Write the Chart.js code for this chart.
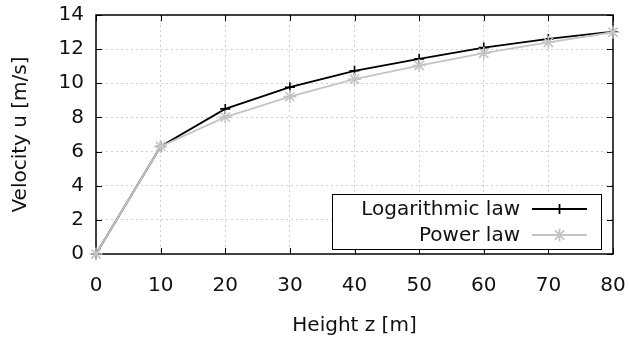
<!DOCTYPE html>
<html><head><meta charset="utf-8">
<script src="https://cdn.jsdelivr.net/npm/chart.js@4"></script>
<style>html,body{margin:0;padding:0;background:#fff}</style>
</head><body>
<canvas id="c" width="629" height="341"></canvas>
<script>
const heights = [0, 10, 20, 30, 40, 50, 60, 70, 80];
const logLaw = [0, 6.3, 8.5, 9.77, 10.73, 11.43, 12.09, 12.6, 13.02];
const powerLaw = [0, 6.3, 8.02, 9.22, 10.24, 11.04, 11.76, 12.4, 12.99];
const seriesNames = ['Logarithmic law', 'Power law'];
const xTitle = 'Height z [m]';
const yTitle = 'Velocity u [m/s]';

const FONT = 'DejaVu Sans';
const TXT = '#111';
const GRAY = '#c4c4c4';

const framePlugin = {
  id: 'frame',
  beforeDatasetsDraw(chart) {
    const {ctx, chartArea: a, scales: {x, y}} = chart;
    ctx.save();
    ctx.strokeStyle = '#000';
    ctx.lineWidth = 1;
    const L = 6;
    ctx.beginPath();
    x.ticks.forEach(t => {
      const px = Math.round(x.getPixelForValue(t.value)) + 0.5;
      ctx.moveTo(px, a.bottom); ctx.lineTo(px, a.bottom - L);
      ctx.moveTo(px, a.top); ctx.lineTo(px, a.top + L);
    });
    y.ticks.forEach(t => {
      const py = Math.round(y.getPixelForValue(t.value)) + 0.5;
      ctx.moveTo(a.left, py); ctx.lineTo(a.left + L, py);
      ctx.moveTo(a.right, py); ctx.lineTo(a.right - L, py);
    });
    ctx.stroke();
    ctx.lineWidth = 1.5;
    ctx.strokeRect(a.left, a.top, a.right - a.left, a.bottom - a.top);
    ctx.restore();
  }
};

const legendPlugin = {
  id: 'gpLegend',
  afterDraw(chart) {
    const {ctx} = chart;
    const bx = 332, by = 194, bw = 269, bh = 55;
    ctx.save();
    ctx.fillStyle = '#fff';
    ctx.fillRect(bx, by, bw, bh);
    ctx.strokeStyle = '#000';
    ctx.lineWidth = 1;
    ctx.strokeRect(bx + 0.5, by + 0.5, bw, bh);
    const rows = [209, 235];
    ctx.font = '20px "' + FONT + '"';
    ctx.textAlign = 'right';
    ctx.textBaseline = 'middle';
    chart.data.datasets.forEach((ds, i) => {
      const yy = rows[i];
      ctx.fillStyle = TXT;
      ctx.fillText(ds.label, 520, yy + 1);
      ctx.strokeStyle = ds.borderColor;
      ctx.lineWidth = ds.borderWidth;
      ctx.beginPath(); ctx.moveTo(532, yy); ctx.lineTo(587, yy); ctx.stroke();
      Chart.helpers.drawPoint(ctx, {pointStyle: ds.pointStyle, radius: ds.pointRadius, borderWidth: ds.pointBorderWidth, rotation: 0}, 559.5, yy);
    });
    ctx.restore();
  }
};

const gridColor = (ctx) => {
  const n = ctx.scale.ticks.length;
  return (ctx.index === 0 || ctx.index === n - 1) ? 'rgba(0,0,0,0)' : '#cfcfcf';
};

new Chart(document.getElementById('c'), {
  type: 'line',
  data: {
    datasets: [
      {
        label: seriesNames[0],
        data: heights.map((h, i) => ({x: h, y: logLaw[i]})),
        borderColor: '#000', backgroundColor: '#000',
        borderWidth: 1.8, pointStyle: 'cross', pointRadius: 5,
        pointBorderWidth: 1.6, pointBorderColor: '#000',
        tension: 0, clip: false, order: 1
      },
      {
        label: seriesNames[1],
        data: heights.map((h, i) => ({x: h, y: powerLaw[i]})),
        borderColor: GRAY, backgroundColor: GRAY,
        borderWidth: 1.8, pointStyle: 'star', pointRadius: 6.5,
        pointBorderWidth: 1.6, pointBorderColor: GRAY,
        tension: 0, clip: false, order: 0
      }
    ]
  },
  options: {
    responsive: false,
    animation: false,
    events: [],
    layout: {padding: {left: 0, right: 16, top: 15, bottom: 0}},
    plugins: {legend: {display: false}, tooltip: {enabled: false}},
    scales: {
      x: {
        type: 'linear', min: 0, max: 80,
        afterFit(s) { s.height = 87; s.paddingRight = 0; s.paddingLeft = 0; },
        ticks: {stepSize: 10, padding: 20, color: TXT, font: {family: FONT, size: 20}},
        grid: {color: gridColor, lineWidth: 1, drawTicks: false},
        border: {display: false, dash: [2, 3]},
        title: {display: true, text: xTitle, color: TXT, font: {family: FONT, size: 20}, padding: {top: 0, bottom: 3}}
      },
      y: {
        type: 'linear', min: 0, max: 14,
        afterFit(s) { s.width = 96; s.paddingTop = 0; s.paddingBottom = 0; },
        ticks: {stepSize: 2, padding: 12, color: TXT, font: {family: FONT, size: 20}},
        grid: {color: gridColor, lineWidth: 1, drawTicks: false},
        border: {display: false, dash: [2, 3]},
        title: {display: true, text: yTitle, color: TXT, font: {family: FONT, size: 20}, padding: {top: 9, bottom: 0}}
      }
    }
  },
  plugins: [framePlugin, legendPlugin]
});
</script>
</body></html>
